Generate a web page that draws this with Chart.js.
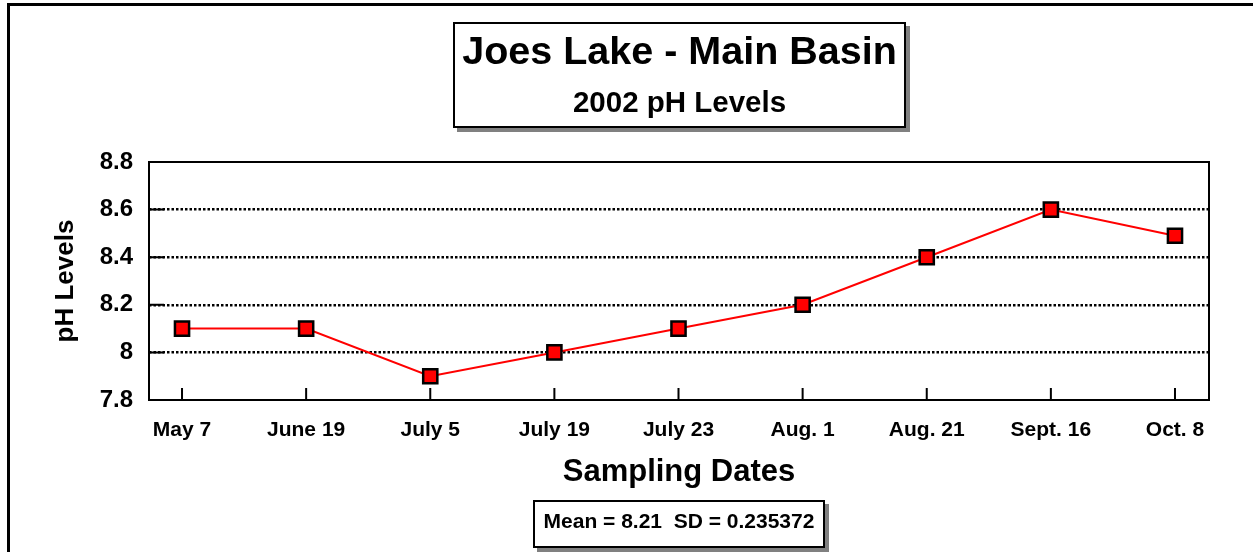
<!DOCTYPE html>
<html>
<head>
<meta charset="utf-8">
<script src="https://cdn.jsdelivr.net/npm/chart.js@4/dist/chart.umd.min.js"></script>
<style>
  html, body { margin: 0; padding: 0; background: #fff; }
  body { width: 1253px; height: 552px; position: relative; overflow: hidden; font-family: "Liberation Sans", Arial, sans-serif; font-weight: bold; color: #000; }
  #frame { position: absolute; left: 7px; top: 3px; width: 1400px; height: 700px; border-left: 3px solid #000; border-top: 3px solid #000; }
  #wrap { position: absolute; left: 0; top: 0; width: 1253px; height: 552px; }
  .box { position: absolute; background: #fff; border: 2px solid #000; box-shadow: 4px 4px 0 #808080; box-sizing: border-box; }
  .txt { position: absolute; left: 0; right: 0; text-align: center; line-height: 1; white-space: nowrap; }
</style>
</head>
<body>
<div id="frame"></div>
<div id="wrap"><canvas id="c"></canvas></div>
<div class="box" style="left:453px; top:22px; width:453px; height:106px;">
  <div class="txt" style="top:7px; font-size:39.5px;">Joes Lake - Main Basin</div>
  <div class="txt" style="top:63px; font-size:29.5px;">2002 pH Levels</div>
</div>
<div class="box" style="left:533px; top:500px; width:292px; height:48px;">
  <div class="txt" style="top:8px; font-size:21px;">Mean = 8.21&nbsp;&nbsp;SD = 0.235372</div>
</div>
<script>
const categories = ["May 7", "June 19", "July 5", "July 19", "July 23", "Aug. 1", "Aug. 21", "Sept. 16", "Oct. 8"];
const phValues = [8.1, 8.1, 7.9, 8.0, 8.1, 8.2, 8.4, 8.6, 8.49];
const yTicks = [7.8, 8.0, 8.2, 8.4, 8.6, 8.8];

const points = phValues.map((v, i) => ({ x: i, y: v }));

const framePlugin = {
  id: 'frame',
  beforeDatasetsDraw(chart) {
    const { ctx, chartArea: a, scales } = chart;
    ctx.save();
    ctx.strokeStyle = '#000';
    ctx.lineWidth = 2;
    ctx.setLineDash([]);
    ctx.strokeRect(a.left, a.top, a.right - a.left, a.bottom - a.top);
    ctx.beginPath();
    categories.forEach((c, i) => {
      const x = scales.x.getPixelForValue(i);
      ctx.moveTo(x, a.bottom);
      ctx.lineTo(x, a.bottom - 12);
    });
    yTicks.forEach(v => {
      const y = scales.y.getPixelForValue(v);
      ctx.moveTo(a.left, y);
      ctx.lineTo(a.left + 15, y);
    });
    ctx.stroke();
    ctx.restore();
  }
};

Chart.defaults.font.family = '"Liberation Sans", Arial, sans-serif';
Chart.defaults.font.weight = 'bold';
Chart.defaults.color = '#000';

new Chart(document.getElementById('c'), {
  type: 'line',
  data: {
    datasets: [{
      data: points,
      borderColor: '#ff0000',
      borderWidth: 2,
      pointStyle: 'rect',
      pointRadius: 10,
      pointHoverRadius: 10,
      pointBackgroundColor: '#ff0000',
      pointBorderColor: '#000',
      pointBorderWidth: 2.5,
      tension: 0
    }]
  },
  options: {
    responsive: true,
    maintainAspectRatio: false,
    animation: false,
    events: [],
    layout: { padding: { left: 0, top: 162, right: 44, bottom: 0 } },
    plugins: { legend: { display: false }, tooltip: { enabled: false } },
    scales: {
      x: {
        type: 'linear',
        min: -0.266,
        max: 8.274,
        afterBuildTicks(scale) { scale.ticks = categories.map((c, i) => ({ value: i })); },
        afterFit(scale) { scale.height = 152; },
        ticks: {
          autoSkip: false,
          maxRotation: 0,
          padding: 18,
          font: { size: 21, weight: 'bold' },
          callback: (v) => categories[v]
        },
        grid: { display: false, drawTicks: false },
        border: { display: false },
        title: {
          display: true,
          text: 'Sampling Dates',
          font: { size: 31, weight: 'bold' },
          padding: { top: 0, bottom: 61 }
        }
      },
      y: {
        min: 7.8,
        max: 8.8,
        afterBuildTicks(scale) { scale.ticks = yTicks.map(v => ({ value: v })); },
        afterFit(scale) { scale.width = 149; },
        ticks: {
          padding: 16,
          font: { size: 24, weight: 'bold' },
          callback: (v) => String(Math.round(v * 10) / 10)
        },
        grid: {
          drawTicks: false,
          color: (ctx) => (ctx.tick && (ctx.tick.value > 7.85 && ctx.tick.value < 8.75)) ? '#000' : 'rgba(0,0,0,0)',
          lineWidth: 2.5
        },
        border: { display: false, dash: [2.5, 2] },
        title: {
          display: true,
          text: 'pH Levels',
          font: { size: 26, weight: 'bold' },
          padding: { top: 50, bottom: 0 }
        }
      }
    }
  },
  plugins: [framePlugin]
});
</script>
</body>
</html>
